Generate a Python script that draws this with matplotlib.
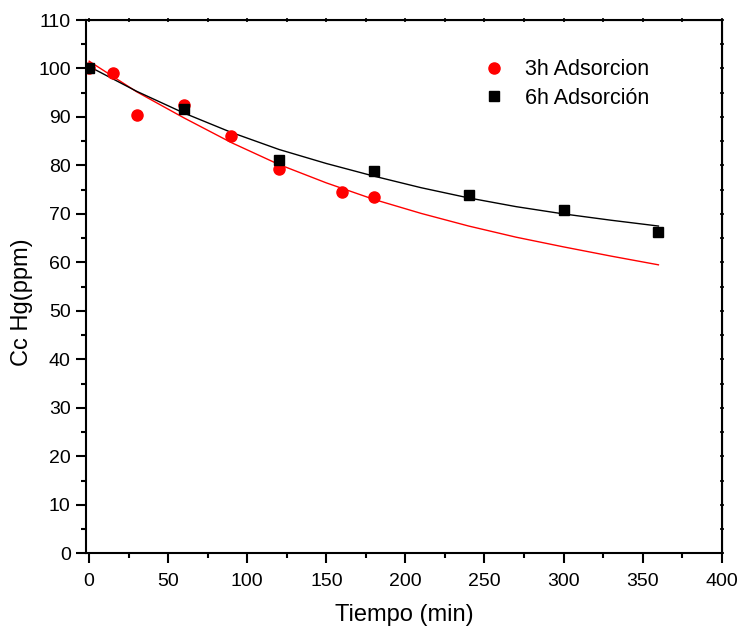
import matplotlib.pyplot as plt
from matplotlib.ticker import MultipleLocator, NullFormatter

plt.rcParams['font.family'] = ['Liberation Sans', 'DejaVu Sans']

# measured points
t_3h = [0, 15, 30, 60, 90, 120, 160, 180]
c_3h = [100.0, 99.0, 90.4, 92.5, 86.0, 79.3, 74.6, 73.4]
t_6h = [0, 60, 120, 180, 240, 300, 360]
c_6h = [100.2, 91.6, 81.2, 78.9, 74.0, 70.8, 66.3]

# fitted curves
t_fit = [0, 30, 60, 90, 120, 150, 180, 210, 240, 270, 300, 330, 360]
fit_3h = [101.5, 95.2, 89.8, 84.7, 80.2, 76.4, 73.0, 70.1, 67.5, 65.2, 63.2, 61.3, 59.5]
fit_6h = [100.4, 95.3, 90.8, 86.8, 83.3, 80.4, 77.8, 75.4, 73.3, 71.5, 70.0, 68.7, 67.5]

fig = plt.figure(figsize=(7.37, 6.29), dpi=100)
ax = fig.add_axes([0.1167, 0.1204, 0.8625, 0.8478])

ax.plot(t_fit, fit_3h, color='red', lw=1.0)
ax.plot(t_fit, fit_6h, color='black', lw=1.0)
ax.plot(t_3h, c_3h, 'o', color='red', ms=8, label='3h Adsorcion', zorder=3)
ax.plot(t_6h, c_6h, 's', color='black', ms=6.5, label='6h Adsorción', zorder=3)

ax.set_xlim(-2, 400)
ax.set_ylim(0, 110)
ax.xaxis.set_major_locator(MultipleLocator(50))
ax.xaxis.set_minor_locator(MultipleLocator(25))
ax.yaxis.set_major_locator(MultipleLocator(10))
ax.yaxis.set_minor_locator(MultipleLocator(5))
ax.tick_params(which='major', direction='out', length=7, width=1.5, labelsize=14)
ax.tick_params(which='minor', direction='out', length=3.6, width=1.5)
ax.tick_params(axis='x', which='major', pad=7)
ax.tick_params(axis='y', which='major', pad=4)
for s in ax.spines.values():
    s.set_linewidth(1.5)

top = ax.secondary_xaxis('top')
top.xaxis.set_major_locator(MultipleLocator(25))
top.xaxis.set_major_formatter(NullFormatter())
top.tick_params(direction='inout', length=3, width=1.2)
right = ax.secondary_yaxis('right')
right.yaxis.set_major_locator(MultipleLocator(5))
right.yaxis.set_major_formatter(NullFormatter())
right.tick_params(direction='inout', length=3, width=1.2)

ax.set_xlabel('Tiempo (min)', fontsize=17, labelpad=10)
ax.set_ylabel('Cc Hg(ppm)', fontsize=17)
ax.yaxis.set_label_coords(-0.084, 0.471)

ax.legend(loc='upper left', bbox_to_anchor=(0.584, 0.955), frameon=False,
          fontsize=15.5, handletextpad=0.45, labelspacing=0.35, borderpad=0.2)

fig.savefig('out.png', dpi=100)
